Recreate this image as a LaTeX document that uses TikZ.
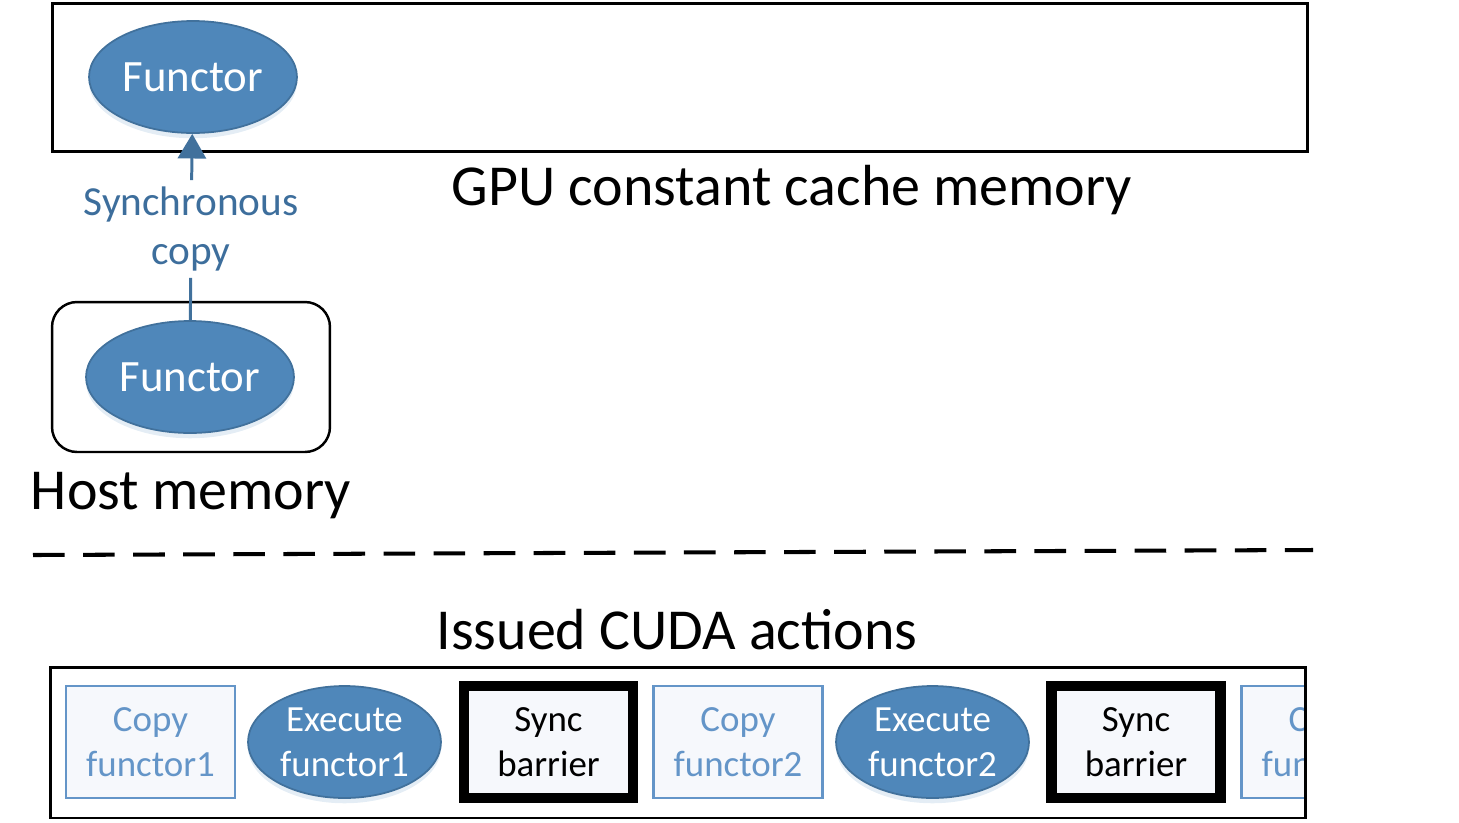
\documentclass[tikz,border=0pt]{standalone}
\usepackage{fontspec}
\setmainfont{Carlito}
\usetikzlibrary{shapes.geometric, arrows.meta, positioning, shadows}

\definecolor{functorblue}{HTML}{4F87BA}
\definecolor{functoredge}{HTML}{41719C}
\definecolor{copyblue}{HTML}{6495C8}
\definecolor{labelblue}{HTML}{3D6E9C}
\definecolor{boxfill}{HTML}{F6F8FC}

\begin{document}
\begin{tikzpicture}[
        x=0.02cm, y=-0.02cm,
        memory/.style={rectangle, draw=black, line width=1.7pt, minimum width=25.12cm, inner sep=0pt},
        functor/.style={ellipse, draw=functoredge, line width=1pt, fill=functorblue, text=white, minimum width=4.16cm, minimum height=2.24cm, inner sep=0pt, font=\fontsize{25.5}{30}\selectfont,
            drop shadow={fill=functorblue!60, opacity=0.25, shadow xshift=0pt, shadow yshift=-3pt}},
        title/.style={font=\fontsize{33}{40}\selectfont, inner sep=0pt},
        copybox/.style={rectangle, draw=copyblue, line width=1.4pt, fill=boxfill, text=copyblue, minimum width=3.38cm, minimum height=2.24cm, align=center, font=\fontsize{21}{25.5}\selectfont},
        execute/.style={ellipse, draw=functoredge, line width=1pt, fill=functorblue, text=white, minimum width=3.86cm, minimum height=2.24cm, inner sep=0pt, align=center, font=\fontsize{21}{25.5}\selectfont,
            drop shadow={fill=functorblue!60, opacity=0.25, shadow xshift=0pt, shadow yshift=-3pt}},
        barrier/.style={rectangle, draw=black, line width=6pt, fill=boxfill, minimum width=3.38cm, minimum height=2.24cm, align=center, font=\fontsize{21}{25.5}\selectfont},
        arrow/.style={draw=functoredge, line width=1.7pt, -{Triangle[width=16pt,length=14pt]}}
    ]
        \useasboundingbox (0,0) rectangle (1459,822);

        % Memories
        \node[memory, minimum height=2.98cm] (gpu) at (680,77.5) {};
        \node[functor] (gpufunctor) at (193,77) {Functor};
        \node[title] (gpulabel) at (792,190) {GPU constant cache memory};

        \node[memory, rounded corners=0.5cm, line width=1.4pt, minimum width=5.56cm, minimum height=3cm] (host) at (191,377) {};
        \node[functor] (hostfunctor) at (190,377) {Functor};
        \node[title, below=0.38cm of host] (hostlabel) {Host memory};

        \node[text=labelblue, align=center, font=\fontsize{23.5}{28.4}\selectfont] (synccopy) at (191,229) {Synchronous\\copy};

        % Arrows
        \draw[draw=functoredge, line width=1.7pt] (hostfunctor) -- (synccopy);
        \draw[arrow] (synccopy) -- (gpufunctor);

        % Separator
        \coordinate (sepleft) at (33,555);
        \coordinate (sepright) at (1313,550);
        \draw[line width=2.3pt, dash pattern=on 18pt off 10.5pt] (sepleft) -- (sepright);

        % CUDA actions
        \node[title] (cudalabel) at (677,630) {Issued CUDA actions};
        \node[copybox] (copy1) at (150.5,742) {Copy\\functor1};
        \node[execute] (exec1) at (344.5,742) {Execute\\functor1};
        \node[barrier] (sync1) at (548.5,742) {Sync\\barrier};
        \node[copybox] (copy2) at (738,742) {Copy\\functor2};
        \node[execute] (exec2) at (932.5,742) {Execute\\functor2};
        \node[barrier] (sync2) at (1136,742) {Sync\\barrier};
        \begin{scope}
            \clip (50,667) rectangle (1306,818);
            \node[copybox] (copy3) at (1326,742) {Copy\\functor3};
        \end{scope}
        \node[memory, minimum height=3.02cm] (cuda) at (678,742.5) {};
    \end{tikzpicture}
\end{document}
